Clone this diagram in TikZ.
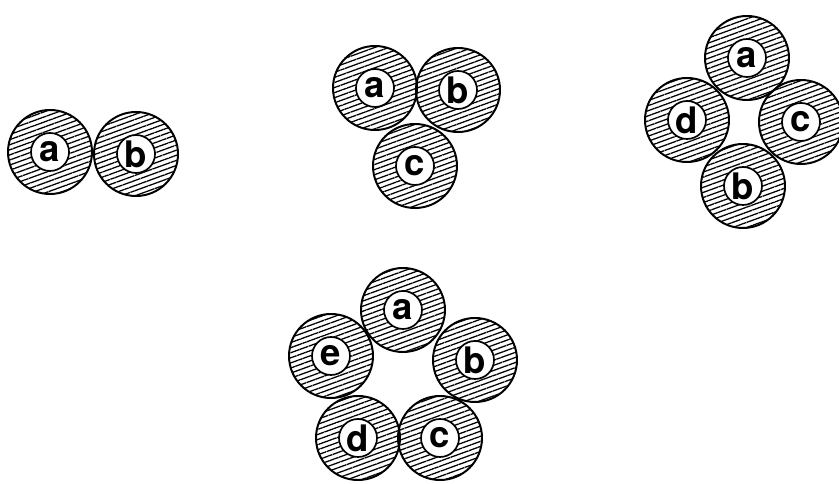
\documentclass[tikz,border=0pt]{standalone}
\usepackage{fontspec}
\setsansfont{TeX Gyre Heros}
\usetikzlibrary{patterns.meta}

\tikzset{
  ring/.style={circle, draw, line width=1.4pt, minimum size=2.1cm, inner sep=0pt,
    pattern={Lines[angle=20, distance=3.4pt, line width=0.9pt]}},
  core/.style={circle, draw, fill=white, line width=1.2pt, minimum size=0.95cm,
    inner sep=0pt, font=\sffamily\bfseries\fontsize{26}{26}\selectfont}
}

\begin{document}
\begin{tikzpicture}[x=1cm,y=1cm]
    \useasboundingbox (0,0) rectangle (20.975,12.1);

    % two molecules
    \foreach \name/\pos in {a/{(1.25,8.3)}, b/{(3.4,8.25)}} {
      \node[ring] (two\name) at \pos {};
      \node[core] at (two\name) {\name};
    }

    % three molecules
    \foreach \name/\pos in {a/{(9.375,9.9)}, b/{(11.45,9.85)}, c/{(10.375,7.95)}} {
      \node[ring] (three\name) at \pos {};
      \node[core] at (three\name) {\name};
    }

    % four molecules
    \foreach \name/\pos in {a/{(18.675,10.65)}, d/{(17.175,9.1)}, c/{(20.025,9.05)},
        b/{(18.575,7.45)}} {
      \node[ring] (four\name) at \pos {};
      \node[core] at (four\name) {\name};
    }

    % five molecules
    \foreach \name/\pos in {a/{(10.075,4.35)}, e/{(8.275,3.2)}, b/{(11.875,3.1)},
        d/{(8.95,1.15)}, c/{(11.0,1.15)}} {
      \node[ring] (five\name) at \pos {};
      \node[core] at (five\name) {\name};
    }
\end{tikzpicture}
\end{document}
